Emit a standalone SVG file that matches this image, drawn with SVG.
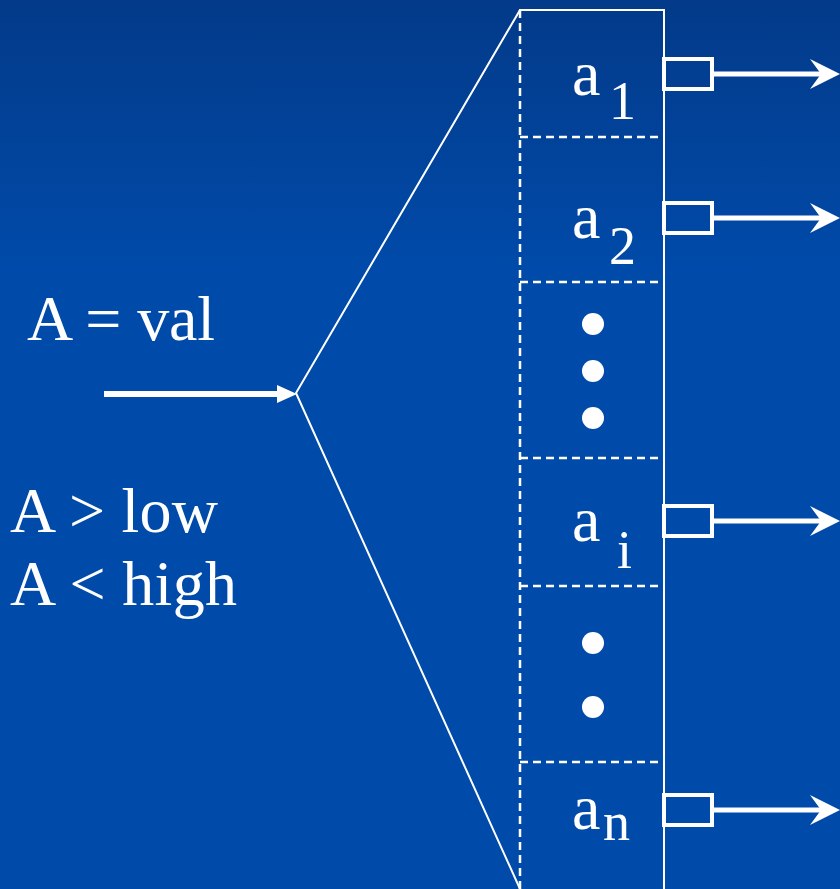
<svg xmlns="http://www.w3.org/2000/svg" width="840" height="889" viewBox="0 0 840 889">
<defs>
<linearGradient id="bg" x1="0" y1="0" x2="0" y2="1">
<stop offset="0" stop-color="#033a89"/>
<stop offset="0.3" stop-color="#004aa9"/>
<stop offset="1" stop-color="#004aa9"/>
</linearGradient>
<style>
.t{font-family:"Liberation Serif","DejaVu Serif",serif;fill:#fff;}
.big{font-size:64px;}
.a{font-size:64px;}
.sub{font-size:54px;}
.dash{stroke:#fff;stroke-width:2.5;stroke-dasharray:8 5;fill:none;}
.solid{stroke:#fff;stroke-width:2;fill:none;}
.box{stroke:#fff;stroke-width:4;fill:none;}
.out{stroke:#fff;stroke-width:5;fill:none;}
</style>
</defs>
<rect width="840" height="889" fill="url(#bg)"/>
<g id="table">
<line class="dash" x1="520" y1="10" x2="520" y2="889"/>
<line class="solid" x1="664" y1="10" x2="664" y2="889"/>
<line class="solid" x1="519" y1="10" x2="665" y2="10"/>
<line class="dash" x1="520" y1="137" x2="664" y2="137"/>
<line class="dash" x1="520" y1="282" x2="664" y2="282"/>
<line class="dash" x1="520" y1="458" x2="664" y2="458"/>
<line class="dash" x1="520" y1="586" x2="664" y2="586"/>
<line class="dash" x1="520" y1="762" x2="664" y2="762"/>
</g>
<g id="fan">
<polyline class="solid" points="520,10 296,393 520,889" stroke-width="1.8"/>
</g>
<g id="cond">
<text class="t big" x="27" y="340" textLength="188">A = val</text>
<text class="t big" x="10" y="532" textLength="208">A &gt; low</text>
<text class="t big" x="10" y="605" textLength="227">A &lt; high</text>
</g>
<g id="connectors">
<line x1="104" y1="394" x2="282" y2="394" stroke="#fff" stroke-width="6"/>
<polygon points="297,394 277,385 277,403" fill="#fff"/>
<g id="out1"><rect class="box" x="664" y="59" width="48" height="30"/><line class="out" x1="712" y1="74" x2="825" y2="74"/><polygon points="840,74 810,59 821,74 810,89" fill="#fff"/></g>
<g id="out2"><rect class="box" x="664" y="203" width="48" height="30"/><line class="out" x1="712" y1="218" x2="825" y2="218"/><polygon points="840,218 810,203 821,218 810,233" fill="#fff"/></g>
<g id="outi"><rect class="box" x="664" y="506" width="48" height="30"/><line class="out" x1="712" y1="521" x2="825" y2="521"/><polygon points="840,521 810,506 821,521 810,536" fill="#fff"/></g>
<g id="outn"><rect class="box" x="664" y="795" width="48" height="30"/><line class="out" x1="712" y1="810" x2="825" y2="810"/><polygon points="840,810 810,795 821,810 810,825" fill="#fff"/></g>
</g>
<g id="a1"><text class="t a" x="572" y="95">a</text><text class="t sub" x="609" y="119">1</text></g>
<g id="a2"><text class="t a" x="572" y="238">a</text><text class="t sub" x="609" y="264">2</text></g>
<g id="dots1"><circle cx="593" cy="324" r="11" fill="#fff"/><circle cx="593" cy="371" r="11" fill="#fff"/><circle cx="593" cy="418" r="11" fill="#fff"/></g>
<g id="ai"><text class="t a" x="572" y="541">a</text><text class="t sub" x="617" y="568">i</text></g>
<g id="dots2"><circle cx="593" cy="643" r="11" fill="#fff"/><circle cx="593" cy="707" r="11" fill="#fff"/></g>
<g id="an"><text class="t a" x="572" y="829">a</text><text class="t sub" x="603" y="840">n</text></g>
</svg>
